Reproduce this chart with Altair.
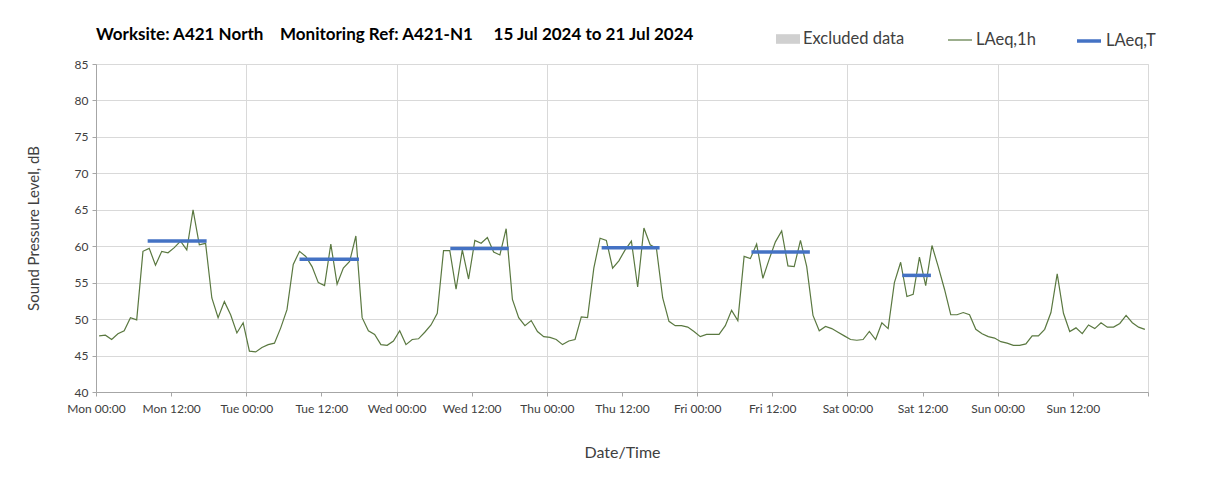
import altair as alt
import pandas as pd

# Hourly LAeq,1h values (dB), one list per day, hours 00..23
mon = [47.7, 47.8, 47.2, 48.0, 48.4, 50.2, 49.9, 59.3, 59.7, 57.4, 59.3, 59.1,
       59.8, 60.7, 59.5, 65.0, 60.2, 60.4, 52.9, 50.2, 52.4, 50.6, 48.1, 49.5]
tue = [45.6, 45.5, 46.1, 46.5, 46.7, 48.8, 51.3, 57.5, 59.3, 58.6, 57.2, 55.0,
       54.6, 60.3, 54.8, 57.0, 57.9, 61.4, 50.2, 48.4, 47.9, 46.5, 46.4, 47.0]
wed = [48.4, 46.5, 47.2, 47.3, 48.2, 49.2, 50.8, 59.4, 59.4, 54.1, 59.5, 55.5,
       60.8, 60.4, 61.2, 59.2, 58.8, 62.4, 52.7, 50.2, 49.1, 49.8, 48.3, 47.6]
thu = [47.5, 47.2, 46.5, 47.0, 47.2, 50.3, 50.2, 57.0, 61.1, 60.8, 57.0, 58.0,
       59.5, 60.7, 54.4, 62.5, 60.2, 59.7, 52.9, 49.7, 49.1, 49.1, 48.9, 48.3]
fri = [47.6, 47.9, 47.9, 47.9, 49.1, 51.2, 49.8, 58.6, 58.3, 60.3, 55.6, 58.2,
       60.6, 62.1, 57.3, 57.2, 60.8, 57.2, 50.5, 48.4, 49.0, 48.7, 48.2, 47.7]
sat = [47.2, 47.1, 47.2, 48.3, 47.2, 49.5, 48.7, 55.0, 57.8, 53.1, 53.4, 58.5,
       54.6, 60.1, 57.2, 54.1, 50.6, 50.6, 50.9, 50.6, 48.6, 48.0, 47.6, 47.4]
sun = [46.9, 46.7, 46.4, 46.4, 46.6, 47.7, 47.7, 48.6, 50.9, 56.2, 50.8, 48.3,
       48.8, 48.0, 49.2, 48.7, 49.5, 48.9, 48.9, 49.4, 50.5, 49.5, 48.9, 48.6]

# LAeq,T periods and values
t_start = ["2024-07-15T08:15", "2024-07-16T08:30", "2024-07-17T08:35",
           "2024-07-18T08:45", "2024-07-19T08:40", "2024-07-20T08:45"]
t_end = ["2024-07-15T17:40", "2024-07-16T18:00", "2024-07-17T17:55",
         "2024-07-18T18:00", "2024-07-19T18:00", "2024-07-20T13:20"]
t_val = [60.7, 58.2, 59.7, 59.8, 59.2, 56.0]

series_names = ["Excluded data", "LAeq,1h", "LAeq,T"]
series_colors = ["#d0d0d0", "#5a7840", "#4472c4"]

x_ticks = [t.strftime("%Y-%m-%dT%H:%M") for t in
           pd.date_range("2024-07-15T00:00", "2024-07-22T00:00", freq="12h")]
y_ticks = list(range(40, 90, 5))

levels = mon + tue + wed + thu + fri + sat + sun
times = pd.date_range("2024-07-15T00:30", periods=len(levels), freq="h")
df1 = pd.DataFrame({"time": times.strftime("%Y-%m-%dT%H:%M"),
                    "level": levels, "series": series_names[1]})
dfT = pd.DataFrame({"start": t_start, "end": t_end, "level": t_val,
                    "series": series_names[2]})
dfX = pd.DataFrame({"time": [x_ticks[0]], "level": [40.0],
                    "series": [series_names[0]]})

FONT = "Lato"
GREY_TXT = "#404040"
GRID = "#d9d9d9"


def mk_legend(x, stroke_w, sym_type):
    return alt.Legend(
        title=None, orient="none", direction="horizontal",
        legendX=x, legendY=-37,
        labelFont=FONT, labelFontSize=16.5, labelColor=GREY_TXT,
        labelOffset=3, symbolSize=576, symbolType=sym_type,
        symbolStrokeWidth=stroke_w, symbolOpacity=1,
    )


x_axis = alt.Axis(
    title="Date/Time", titleFont=FONT, titleFontSize=16, titleFontWeight="normal",
    titleColor=GREY_TXT, titlePadding=30,
    values=x_ticks, format="%a %H:%M",
    labelExpr="datum.value >= datetime(2024, 6, 22) ? '' : timeFormat(datum.value, '%a %H:%M')",
    labelFont=FONT, labelFontSize=12, labelColor=GREY_TXT, labelPadding=7,
    tickSize=4, tickColor="#a6a6a6", domainColor="#a6a6a6",
    grid=True,
    gridColor={"condition": {"test": "hours(datum.value) == 0", "value": GRID},
               "value": "transparent"},
    labelOverlap=False, labelFlush=False,
)
y_axis = alt.Axis(
    title="Sound Pressure Level, dB", titleFont=FONT, titleFontSize=15,
    titleFontWeight="normal", titleColor=GREY_TXT, titlePadding=33,
    values=y_ticks, labelFont=FONT, labelFontSize=12, labelColor=GREY_TXT,
    tickSize=4, tickColor="#a6a6a6", domainColor="#a6a6a6",
    grid=True, gridColor=GRID, labelPadding=4, labelOverlap=False,
)

x_scale = alt.Scale(domain=["2024-07-15T00:00", "2024-07-22T00:00"])
y_scale = alt.Scale(domain=[40, 85], nice=False, zero=False)

excluded = alt.Chart(dfX).transform_filter("false").mark_point(filled=True).encode(
    x=alt.X("time:T", scale=x_scale, axis=x_axis),
    y=alt.Y("level:Q", scale=y_scale, axis=y_axis),
    fill=alt.Fill("series:N",
                  scale=alt.Scale(domain=[series_names[0]], range=[series_colors[0]]),
                  legend=mk_legend(680, 0, "M-1,-0.4H1V0.4H-1Z")),
)

line = alt.Chart(df1).mark_line(strokeWidth=1.2).encode(
    x=alt.X("time:T", scale=x_scale, axis=x_axis),
    y=alt.Y("level:Q", scale=y_scale, axis=y_axis),
    color=alt.Color("series:N",
                    scale=alt.Scale(domain=[series_names[1]], range=[series_colors[1]]),
                    legend=mk_legend(851, 1.2, "stroke")),
)

rules = alt.Chart(dfT).mark_rule(strokeWidth=3.5).encode(
    x=alt.X("start:T", scale=x_scale, axis=x_axis),
    x2="end:T",
    y=alt.Y("level:Q", scale=y_scale, axis=y_axis),
    stroke=alt.Stroke("series:N",
                      scale=alt.Scale(domain=[series_names[2]], range=[series_colors[2]]),
                      legend=mk_legend(979, 3.5, "stroke")),
)

title_text = ("Worksite: A421 North\u00a0\u00a0\u00a0\u00a0Monitoring Ref: A421-N1"
              "\u00a0\u00a0\u00a0\u00a0\u00a015 Jul 2024 to 21 Jul 2024")

chart = alt.layer(excluded, line, rules).properties(
    width=1052, height=328,
    title=alt.TitleParams(title_text, anchor="start", frame="group", font=FONT,
                          fontSize=17, fontWeight="bold", color="black", offset=-17),
    padding={"left": 88, "top": 56, "right": 52, "bottom": 86},
    autosize=alt.AutoSizeParams(type="none"),
).configure_view(stroke=None).configure(background="white")

chart.save("out.html", embed_options={"renderer": "svg", "actions": False})
